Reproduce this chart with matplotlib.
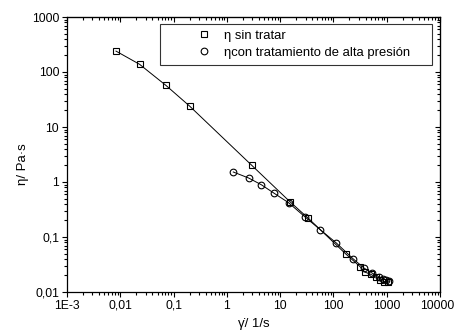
import numpy as np
import matplotlib
matplotlib.use('Agg')
import matplotlib.pyplot as plt
import matplotlib.transforms as mtransforms
from matplotlib.ticker import FixedLocator, FixedFormatter, LogLocator, NullFormatter

plt.rcParams['font.family'] = ['Liberation Sans', 'DejaVu Sans']

# sin tratar (squares)
rate_raw = [0.0083, 0.023, 0.072, 0.20, 2.95, 15.2, 33.6, 171, 315, 390, 500, 630, 740, 890, 1070]
eta_raw = [240, 138, 57, 24, 2.0, 0.44, 0.22, 0.049, 0.029, 0.023, 0.021, 0.0186, 0.0166, 0.0155, 0.0153]

# con tratamiento de alta presion (circles)
rate_hp = [1.32, 2.57, 4.45, 7.6, 14.4, 29.6, 57, 113, 235, 380, 535, 705, 850, 980, 1100]
eta_hp = [1.52, 1.18, 0.89, 0.63, 0.42, 0.23, 0.135, 0.078, 0.040, 0.027, 0.022, 0.019, 0.0175, 0.0165, 0.0158]

x_ticks = [1e-3, 1e-2, 1e-1, 1, 10, 100, 1000, 10000]
x_labels = ['1E-3', '0,01', '0,1', '1', '10', '100', '1000', '10000']
y_ticks = [0.01, 0.1, 1, 10, 100, 1000]
y_labels = ['0,01', '0,1', '1', '10', '100', '1000']

W, H = 454, 331
fig = plt.figure(figsize=(W / 100, H / 100), dpi=100)
ax = fig.add_axes([67 / W, 1 - 292 / H, (440 - 67) / W, (292 - 17) / H])

ax.plot(rate_raw, eta_raw, color='black', lw=0.7, marker='s', ms=4.2,
        mfc='none', mec='black', mew=0.8, label='η sin tratar')
ax.plot(rate_hp, eta_hp, color='black', lw=0.7, marker='o', ms=4.8,
        mfc='none', mec='black', mew=0.8, label='ηcon tratamiento de alta presión')

ax.set_xscale('log')
ax.set_yscale('log')
ax.set_xlim(1e-3, 1e4)
ax.set_ylim(0.01, 1000)

ax.xaxis.set_major_locator(FixedLocator(x_ticks))
ax.xaxis.set_major_formatter(FixedFormatter(x_labels))
ax.yaxis.set_major_locator(FixedLocator(y_ticks))
ax.yaxis.set_major_formatter(FixedFormatter(y_labels))
ax.xaxis.set_minor_locator(LogLocator(base=10, subs=np.arange(2, 10), numticks=20))
ax.yaxis.set_minor_locator(LogLocator(base=10, subs=np.arange(2, 10), numticks=20))
ax.xaxis.set_minor_formatter(NullFormatter())
ax.yaxis.set_minor_formatter(NullFormatter())

ax.tick_params(which='both', direction='out', top=False, right=False, labelsize=8.7, width=0.8)
ax.tick_params(which='major', length=3.6, pad=2)
ax.tick_params(which='minor', length=2.2)
for s in ax.spines.values():
    s.set_linewidth(0.9)

# inward ticks on top and right
axt = ax.secondary_xaxis('top')
axt.xaxis.set_major_locator(FixedLocator(x_ticks))
axt.xaxis.set_minor_locator(LogLocator(base=10, subs=np.arange(2, 10), numticks=20))
axt.tick_params(which='both', direction='in', labeltop=False, width=0.8)
axt.tick_params(which='major', length=3.6)
axt.tick_params(which='minor', length=2.2)
axt.xaxis.set_major_formatter(NullFormatter())
axt.xaxis.set_minor_formatter(NullFormatter())
axr = ax.secondary_yaxis('right')
axr.yaxis.set_major_locator(FixedLocator(y_ticks))
axr.yaxis.set_minor_locator(LogLocator(base=10, subs=np.arange(2, 10), numticks=20))
axr.tick_params(which='both', direction='in', labelright=False, width=0.8)
axr.tick_params(which='major', length=3.6)
axr.tick_params(which='minor', length=2.2)
axr.yaxis.set_major_formatter(NullFormatter())
axr.yaxis.set_minor_formatter(NullFormatter())

# keep the last x label inside the picture
last = ax.get_xticklabels()[-1]
last.set_transform(last.get_transform() + mtransforms.ScaledTranslation(-3 / 100, 0, fig.dpi_scale_trans))

ax.set_xlabel('γ̇/ 1/s', fontsize=9.5)
ax.set_ylabel('η/ Pa·s', fontsize=9.5)
ax.xaxis.set_label_coords(0.5, -(318 - 292) / 275)
ax.yaxis.set_label_coords(-(67 - 29) / 373, (292 - 164) / 275)

# legend frame spans x 160..432, y 24..63 in pixels
x0 = (160 - 67) / 373
wl = (432 - 160) / 373
yt = 1 - (24 - 17) / 275
leg = ax.legend(loc='upper left', bbox_to_anchor=(x0, yt - 0.2, wl, 0.2), mode='expand',
                borderaxespad=0, fontsize=9.4, frameon=True, fancybox=False,
                edgecolor='black', handlelength=5.8, handletextpad=-1.35,
                borderpad=0.45, labelspacing=0.35)
leg.get_frame().set_linewidth(0.8)
for h in leg.legend_handles:
    h.set_linestyle('none')

fig.savefig('out.png', dpi=100)
